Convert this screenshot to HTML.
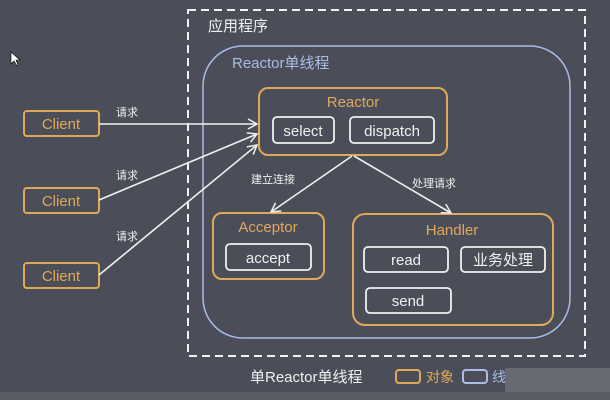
<!DOCTYPE html>
<html><head><meta charset="utf-8"><style>
body{margin:0;width:610px;height:400px;background:#4b4e58;overflow:hidden;font-family:"Liberation Sans","Noto Sans CJK SC",sans-serif}
</style></head><body>
<svg width="610" height="400" xmlns="http://www.w3.org/2000/svg" style="position:absolute;left:0;top:0">
<defs><marker id="a" markerWidth="12" markerHeight="12" refX="10" refY="6" orient="auto" markerUnits="userSpaceOnUse"><path d="M1,1 L10,6 L1,11" fill="none" stroke="#f0f0f0" stroke-width="1.5"/></marker></defs>
<rect x="0" y="392" width="610" height="8" fill="#5a5d66"/>
<rect x="188" y="10" width="397" height="346" fill="none" stroke="#f2f2f2" stroke-width="2" stroke-dasharray="8,5"/>
<text x="208" y="31" font-size="15" fill="#f2f2f2">应用程序</text>
<rect x="203" y="46" width="367" height="292" rx="40" fill="none" stroke="#a9bde6" stroke-width="1.5"/>
<text x="232" y="68" font-size="15" fill="#a9bde6">Reactor单线程</text>
<g fill="none" stroke="#e0a858" stroke-width="2">
<rect x="259" y="88" width="188" height="67" rx="9"/>
<rect x="213" y="213" width="111" height="66" rx="9"/>
<rect x="353" y="214" width="200" height="111" rx="12"/>
<rect x="24" y="111" width="75" height="25" rx="3"/>
<rect x="24" y="188" width="75" height="25" rx="3"/>
<rect x="24" y="263" width="75" height="25" rx="3"/>
<rect x="396" y="370" width="24" height="13" rx="3"/>
</g>
<rect x="463" y="370" width="24" height="13" rx="3" fill="none" stroke="#a9bde6" stroke-width="2"/>
<g fill="none" stroke="#f0f0f0" stroke-width="1.8">
<rect x="273" y="117" width="61" height="26" rx="4"/>
<rect x="350" y="117" width="84" height="26" rx="4"/>
<rect x="226" y="244" width="85" height="26" rx="4"/>
<rect x="364" y="247" width="84" height="25" rx="4"/>
<rect x="461" y="247" width="84" height="25" rx="4"/>
<rect x="366" y="288" width="85" height="25" rx="4"/>
</g>
<g stroke="#f0f0f0" stroke-width="1.6" marker-end="url(#a)">
<line x1="99" y1="124" x2="257" y2="124"/>
<line x1="99" y1="200" x2="257" y2="134"/>
<line x1="99" y1="275" x2="257" y2="145"/>
<line x1="352" y1="156" x2="271" y2="212"/>
<line x1="354" y1="156" x2="451" y2="213"/>
</g>
<g font-size="15" text-anchor="middle">
<text x="353" y="107" fill="#e0a858">Reactor</text>
<text x="268" y="232" fill="#e0a858">Acceptor</text>
<text x="452" y="235" fill="#e0a858">Handler</text>
<text x="61" y="129" fill="#e0a858">Client</text>
<text x="61" y="206" fill="#e0a858">Client</text>
<text x="61" y="281" fill="#e0a858">Client</text>
<text x="303" y="136" fill="#f0f0f0">select</text>
<text x="392" y="136" fill="#f0f0f0">dispatch</text>
<text x="268" y="263" fill="#f0f0f0">accept</text>
<text x="406" y="265" fill="#f0f0f0">read</text>
<text x="503" y="265" fill="#f0f0f0">业务处理</text>
<text x="408" y="306" fill="#f0f0f0">send</text>
</g>
<g font-size="11" fill="#f0f0f0">
<text x="116" y="116">请求</text>
<text x="116" y="179">请求</text>
<text x="116" y="240">请求</text>
<text x="251" y="183">建立连接</text>
<text x="412" y="187">处理请求</text>
</g>
<text x="250" y="382" font-size="15" fill="#f0f0f0">单Reactor单线程</text>
<text x="426" y="382" font-size="14" fill="#e0a858">对象</text>
<text x="492" y="382" font-size="14" fill="#a9bde6">线</text>
<rect x="505" y="368" width="105" height="24" fill="#7a7d85" opacity="0.6"/>
<path d="M11,52 L11,64 L14,61 L17,66 L18,65 L16,60 L20,60 Z" fill="#fff" stroke="#000" stroke-width="0.6"/>
</svg>
</body></html>
